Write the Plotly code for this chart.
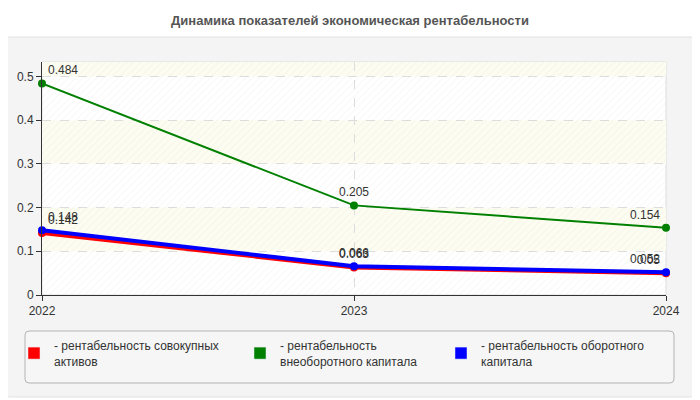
import plotly.graph_objects as go

# Data
years = [2022, 2023, 2024]
total_assets = [0.142, 0.063, 0.05]
fixed_capital = [0.484, 0.205, 0.154]
working_capital = [0.148, 0.066, 0.052]

series_names = [
    '- рентабельность совокупных<br>активов',
    '- рентабельность<br>внеоборотного капитала',
    '- рентабельность оборотного<br>капитала',
]
series_colors = ['#ff0000', '#008000', '#0000ff']
y_ticks = [0, 0.1, 0.2, 0.3, 0.4, 0.5]
y_top = 0.533

# The page body has an 8px margin, so the figure is shifted by that much.
OFF = 8
W, H = 700 - OFF, 400 - OFF
# Plot area in window pixels.
L, R, T, B = 42, 666, 62, 295


def px_x(p):
    return (p - L) / (R - L)


def px_y(p):
    return (B - p) / (B - T)


def rounded_rect(x0, y0, x1, y1, r):
    """Rounded rectangle path, window pixels in, paper coords out."""
    pts = [
        ('M', x0 + r, y0), ('L', x1 - r, y0), ('Q', x1, y0, x1, y0 + r),
        ('L', x1, y1 - r), ('Q', x1, y1, x1 - r, y1), ('L', x0 + r, y1),
        ('Q', x0, y1, x0, y1 - r), ('L', x0, y0 + r), ('Q', x0, y0, x0 + r, y0),
    ]
    out = []
    for p in pts:
        cmd, coords = p[0], p[1:]
        xy = []
        for i in range(0, len(coords), 2):
            xy.append(f'{px_x(coords[i]):.5f},{px_y(coords[i + 1]):.5f}')
        out.append(cmd + ' '.join(xy))
    return ' '.join(out) + ' Z'


fig = go.Figure()

# Hatched background over the plot area.
fig.add_trace(go.Scatter(
    x=[years[0], years[-1], years[-1], years[0], years[0]],
    y=[0, 0, y_top, y_top, 0],
    mode='lines',
    line=dict(width=0),
    fill='toself',
    fillcolor='rgba(0,0,0,0)',
    fillpattern=dict(shape='/', fgcolor='rgba(200,200,200,0.5)',
                     bgcolor='rgba(0,0,0,0)', size=5, solidity=0.15),
    hoverinfo='skip',
    showlegend=False,
))

values = [total_assets, fixed_capital, working_capital]
widths = [4, 2, 4]
label_pos = ['top right', 'top center', 'top left']
legends = ['legend', 'legend2', 'legend3']

for name, vals, color, w in zip(series_names, values, series_colors, widths):
    fig.add_trace(go.Scatter(
        x=years, y=vals,
        mode='lines+markers+text',
        line=dict(color=color, width=w),
        marker=dict(color=color, size=8),
        text=[str(v) for v in vals],
        textposition=label_pos,
        textfont=dict(size=12, color='#333333'),
        cliponaxis=False,
        name=name,
        showlegend=False,
    ))

# Legend entries (rectangular swatches).
for name, color, lg in zip(series_names, series_colors, legends):
    fig.add_trace(go.Bar(
        x=[None], y=[None],
        marker=dict(color=color),
        name=name,
        legend=lg,
        showlegend=True,
    ))

shapes = [
    # outer panel
    dict(type='path', path=rounded_rect(2, 37, 698, 397, 8), xref='paper', yref='paper',
         fillcolor='#f4f4f4', line=dict(color='#e2e2e2', width=1), layer='below'),
    # plot area
    dict(type='rect', xref='paper', yref='paper', x0=0, x1=1, y0=0, y1=1,
         fillcolor='#ffffff', line=dict(color='#dddddd', width=1), layer='below'),
    # legend box
    dict(type='path', path=rounded_rect(25, 331, 674, 383, 4), xref='paper', yref='paper',
         fillcolor='#f6f6f6', line=dict(color='#b4b4b4', width=1), layer='below'),
]
# alternating bands
bands = y_ticks + [y_top]
for i in range(len(bands) - 1):
    if i % 2 == 1:
        shapes.append(dict(type='rect', xref='paper', yref='y', x0=0, x1=1,
                           y0=bands[i], y1=bands[i + 1], fillcolor='#fcfcf0',
                           line=dict(width=0), layer='below'))

legend_style = dict(
    orientation='v', xanchor='left', yanchor='top',
    bgcolor='rgba(0,0,0,0)', borderwidth=0,
    font=dict(size=12, color='#333333', family='Liberation Sans, Arial'),
    itemwidth=30, tracegroupgap=0,
)

fig.update_layout(
    width=W, height=H,
    margin=dict(l=L - OFF, r=700 - R, t=T - OFF, b=400 - B, autoexpand=False),
    paper_bgcolor='#ffffff',
    plot_bgcolor='rgba(0,0,0,0)',
    font=dict(family='Liberation Sans, Arial', size=12, color='#333333'),
    title=dict(
        text='<b>Динамика показателей экономическая рентабельности</b>',
        x=(350 - OFF) / W, xref='container', xanchor='center',
        y=1 - (20 - OFF) / H, yref='container', yanchor='middle',
        font=dict(size=13, color='#555555', family='Liberation Sans, Arial'),
    ),
    shapes=shapes,
    legend=dict(x=px_x(14), y=px_y(331), **legend_style),
    legend2=dict(x=px_x(240), y=px_y(331), **legend_style),
    legend3=dict(x=px_x(441), y=px_y(331), **legend_style),
    hovermode='closest',
)

fig.update_xaxes(
    range=[years[0], years[-1]],
    tickvals=years,
    ticktext=[str(y) for y in years],
    showgrid=True, gridcolor='#dddddd', griddash='dash',
    showline=True, linecolor='#333333', linewidth=1,
    ticks='outside', ticklen=5, tickcolor='#333333',
    zeroline=False, automargin=False,
)

fig.update_yaxes(
    range=[0, y_top],
    tickvals=y_ticks,
    ticktext=[str(v) for v in y_ticks],
    showgrid=True, gridcolor='#dddddd', griddash='dash',
    showline=True, linecolor='#333333', linewidth=1,
    ticks='outside', ticklen=5, tickcolor='#333333',
    zeroline=False, automargin=False,
)

fig.write_html('out.html')
